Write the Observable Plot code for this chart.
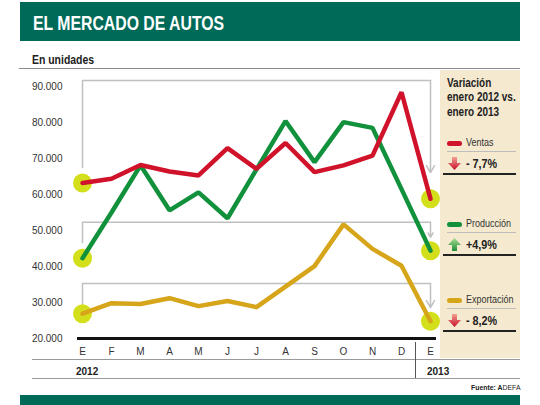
<!DOCTYPE html>
<html><head><meta charset="utf-8">
<script src="https://cdn.jsdelivr.net/npm/d3@7"></script>
<script src="https://cdn.jsdelivr.net/npm/@observablehq/plot@0.6"></script>
<style>
body{margin:0;background:#fff;}
#wrap{position:relative;width:540px;height:405px;overflow:hidden;font-family:"Liberation Sans",Arial,sans-serif;color:#222;}
.abs{position:absolute;white-space:nowrap;line-height:1;}
</style></head><body><div id="wrap"></div>
<script>
const months = ["E","F","M","A","M","J","J","A","S","O","N","D","E"];
const years = ["2012","2013"];
const ventas = [63200,64400,68200,66400,65300,72900,67100,74300,66200,68100,70800,88400,58800];
const produccion = [42300,55000,68100,55600,60600,53400,67000,80400,69000,80100,78500,61500,44400];
const exportacion = [26900,29800,29600,31200,29000,30400,28700,34400,40100,51700,44900,40200,24800];
const yTicks = [20000,30000,40000,50000,60000,70000,80000,90000];
const seriesNames = ["Ventas","Producción","Exportación"];
const seriesColors = ["#d0122b","#12913d","#d6a51a"];
const variaciones = ["- 7,7%","+4,9%","- 8,2%"];
const direcciones = ["down","up","down"];
const bracketTop = [91700,52300,35300];
const bracketLeftEnd = [67500,46700,29200];
const bracketRightEnd = [66100,48100,28600];

const wrap = document.getElementById("wrap");
function el(css, html){ const d=document.createElement("div"); d.className="abs"; d.style.cssText=css; if(html!=null) d.innerHTML=html; wrap.appendChild(d); return d; }

const fmt = d3.formatLocale({decimal:",", thousands:".", grouping:[3], currency:["",""]}).format(",d");
const valuesBySerie = [ventas, produccion, exportacion];
const drawOrder = [2,1,0];
const rows = drawOrder.flatMap(k => valuesBySerie[k].map((v,i)=>({serie:seriesNames[k], i, v})));
const ends = rows.filter(d => d.i===0 || d.i===months.length-1);
const last = months.length-1;
const brackets = seriesNames.flatMap((s,k)=>[
  {k,i:0,v:bracketLeftEnd[k]},{k,i:0,v:bracketTop[k]},{k,i:last,v:bracketTop[k]}]);
const arrows = seriesNames.map((s,k)=>({x:last,y1:bracketTop[k],y2:bracketRightEnd[k]}));

// static layout pieces
el("left:20px;top:2px;width:500px;height:39px;background:#006a59;");
el("left:33px;top:13px;font-size:20px;font-weight:bold;color:#fff;transform:scaleX(0.79);transform-origin:0 0;","EL MERCADO DE AUTOS");
el("left:32px;top:54px;font-size:12px;font-weight:bold;color:#222;transform:scaleX(0.87);transform-origin:0 0;","En unidades");
el("left:19px;top:67.5px;width:501px;height:1.5px;background:#8a8a8a;");
el("left:440px;top:70px;width:80px;height:288px;background:#f5e9cf;");
el("left:447px;top:76px;font-size:12px;font-weight:bold;line-height:14.3px;color:#222;transform:scaleX(0.83);transform-origin:0 0;","Variación<br>enero 2012 vs.<br>enero 2013");

const legendY = [143,224,300];
const arrowSvg = {
  down:'<svg width="13" height="13" viewBox="0 0 13 13"><defs><linearGradient id="gd" x1="0" y1="0" x2="0" y2="1"><stop offset="0" stop-color="#f3a08e"/><stop offset="1" stop-color="#c8102e"/></linearGradient></defs><path d="M4,0H9V6H13L6.5,13L0,6H4Z" fill="url(#gd)"/></svg>',
  up:'<svg width="13" height="13" viewBox="0 0 13 13"><defs><linearGradient id="gu" x1="0" y1="0" x2="0" y2="1"><stop offset="0" stop-color="#a5dc8c"/><stop offset="1" stop-color="#1f8f3a"/></linearGradient></defs><path d="M6.5,0L13,7H9V13H4V7H0Z" fill="url(#gu)"/></svg>'
};
seriesNames.forEach((name,k)=>{
  const b = legendY[k];
  el(`left:447px;top:${b-2.5}px;width:15px;height:5px;border-radius:2.5px;background:${seriesColors[k]};`);
  el(`left:466px;top:${b-4.9}px;font-size:10px;color:#333;transform:scaleX(0.9);transform-origin:0 0;`, name);
  el(`left:447px;top:${b+8}px;width:69px;height:1px;background:#bdbdbd;`);
  el(`left:448px;top:${b+14}px;width:13px;height:13px;`, arrowSvg[direcciones[k]]);
  el(`left:466px;top:${b+20-6.4}px;font-size:13px;font-weight:bold;color:#222;transform:scaleX(0.83);transform-origin:0 0;`, variaciones[k]);
  el(`left:443px;top:${b+29.5}px;width:73px;height:2px;background:#222;`);
});

el("left:32px;top:358.5px;width:488px;height:1.5px;background:#999;");
el("left:32px;top:377.5px;width:488px;height:1.5px;background:#999;");
el("left:20px;top:395px;width:500px;height:10px;background:#006a59;");
el("right:20px;top:384px;font-size:8px;color:#222;transform:scaleX(0.86);transform-origin:100% 0;","<b>Fuente: A</b>DEFA");

const plot = Plot.plot({
  width:540, height:325,
  marginTop:16, marginBottom:57, marginLeft:77, marginRight:104,
  style:{background:"transparent", fontFamily:"'Liberation Sans', Arial, sans-serif", fontSize:"10px", color:"#333", overflow:"visible"},
  x:{type:"linear", domain:[0,last], range:[82,430], ticks:d3.range(months.length), tickFormat:i=>months[i], tickSize:0, tickPadding:9, label:null},
  y:{domain:[yTicks[0], yTicks[yTicks.length-1]], ticks:yTicks, tickFormat:fmt, tickSize:0, tickPadding:15, label:null},
  color:{domain:seriesNames, range:seriesColors},
  marks:[
    Plot.line(brackets,{x:"i", y:"v", z:"k", stroke:"#c0c0c0", strokeWidth:1.5}),
    Plot.arrow(arrows,{x:"x", y1:"y1", y2:"y2", stroke:"#c0c0c0", strokeWidth:1.5, headLength:8}),
    Plot.ruleY([yTicks[0]],{stroke:"#111", strokeWidth:3}),
    Plot.dot(ends,{x:"i", y:"v", r:9.5, fill:"#d4df1c"}),
    Plot.line(rows,{x:"i", y:"v", z:"serie", stroke:"serie", strokeWidth:4.5, strokeLinejoin:"miter"})
  ]
});
plot.style.position="absolute"; plot.style.left="0px"; plot.style.top="70px";
wrap.appendChild(plot);

const xs = plot.scale("x");
const divX = xs.apply(last-0.5);
el(`left:${divX-0.75}px;top:342px;width:1.5px;height:36px;background:#555;`);
el("left:76px;top:367px;font-size:10px;font-weight:bold;color:#222;", years[0]);
el(`left:${xs.apply(last)-3}px;top:367px;font-size:10px;font-weight:bold;color:#222;`, years[1]);
</script></body></html>
